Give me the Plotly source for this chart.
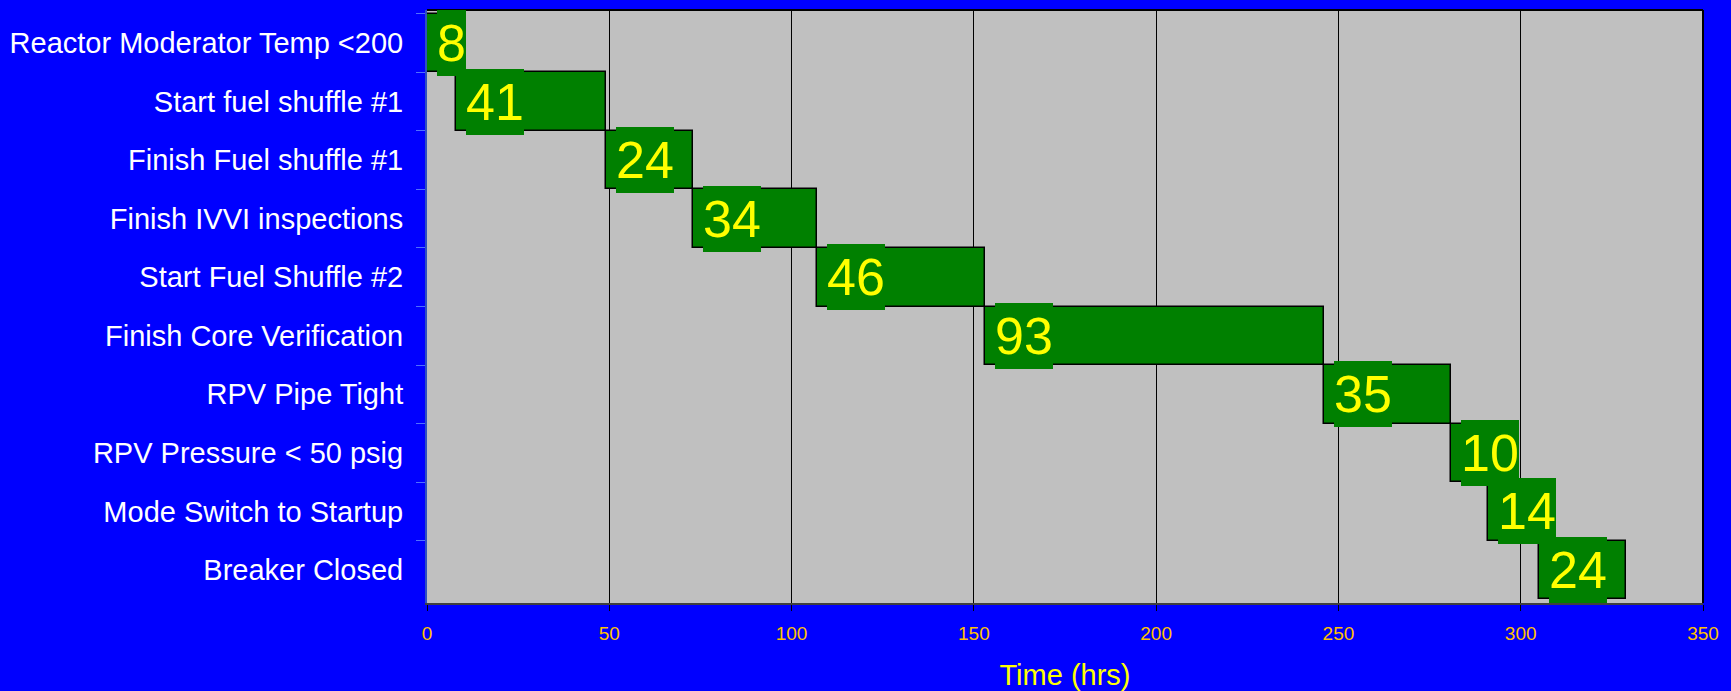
import plotly.graph_objects as go

categories = [
    "Reactor Moderator Temp <200",
    "Start fuel shuffle #1",
    "Finish Fuel shuffle #1",
    "Finish IVVI inspections",
    "Start Fuel Shuffle #2",
    "Finish Core Verification",
    "RPV Pipe Tight",
    "RPV Pressure < 50 psig",
    "Mode Switch to Startup",
    "Breaker Closed",
]
starts = [0, 8, 49, 73, 107, 153, 246, 281, 291, 305]
durations = [8, 41, 24, 34, 46, 93, 35, 10, 14, 24]
x_ticks = [0, 50, 100, 150, 200, 250, 300, 350]

FONT = "Liberation Sans, Arial, sans-serif"

fig = go.Figure()
fig.add_trace(go.Bar(
    y=categories,
    x=durations,
    base=starts,
    orientation="h",
    marker=dict(color="#008000", line=dict(color="#000000", width=1.5)),
    hoverinfo="skip",
    showlegend=False,
))

for cat, s, d in zip(categories, starts, durations):
    fig.add_annotation(
        x=s, y=cat, xref="x", yref="y",
        text=str(d), showarrow=False,
        xanchor="left", yanchor="middle", xshift=10,
        bgcolor="#008000", borderpad=0, borderwidth=0,
        height=66,
        font=dict(family=FONT, size=52, color="#FFFF00"),
    )

fig.add_shape(type="line", xref="paper", yref="paper", x0=1, x1=1, y0=0, y1=1,
              line=dict(color="#000000", width=2))
fig.add_shape(type="line", xref="paper", yref="paper", x0=0, x1=1, y0=1, y1=1,
              line=dict(color="#000000", width=2))

fig.update_layout(
    width=1731, height=691,
    paper_bgcolor="#0000FF",
    plot_bgcolor="#C0C0C0",
    margin=dict(l=427, r=28, t=10, b=88, autoexpand=False),
    bargap=0,
    font=dict(family=FONT),
    xaxis=dict(
        range=[0, 350], tickvals=x_ticks, ticktext=[str(v) for v in x_ticks],
        showgrid=True, gridcolor="#000000", gridwidth=1,
        zeroline=False, automargin=False,
        showline=True, linecolor="#404040", linewidth=2,
        ticks="outside", ticklen=6, tickcolor="#000000", tickwidth=1,
        tickfont=dict(family=FONT, size=19, color="#FFC000"),
        ticklabelstandoff=6,
        title=dict(text="Time (hrs)", font=dict(family=FONT, size=29, color="#FFFF00"), standoff=22),
    ),
    yaxis=dict(
        categoryorder="array", categoryarray=categories, autorange="reversed",
        tickson="boundaries", ticks="outside", ticklen=9, tickcolor="#5070FF", tickwidth=1,
        showgrid=False, zeroline=False, automargin=False,
        showline=True, linecolor="#3050C0", linewidth=2,
        tickfont=dict(family=FONT, size=29, color="#FFFFFF"),
        ticklabelstandoff=16,
    ),
)

fig.write_html("out.html")
